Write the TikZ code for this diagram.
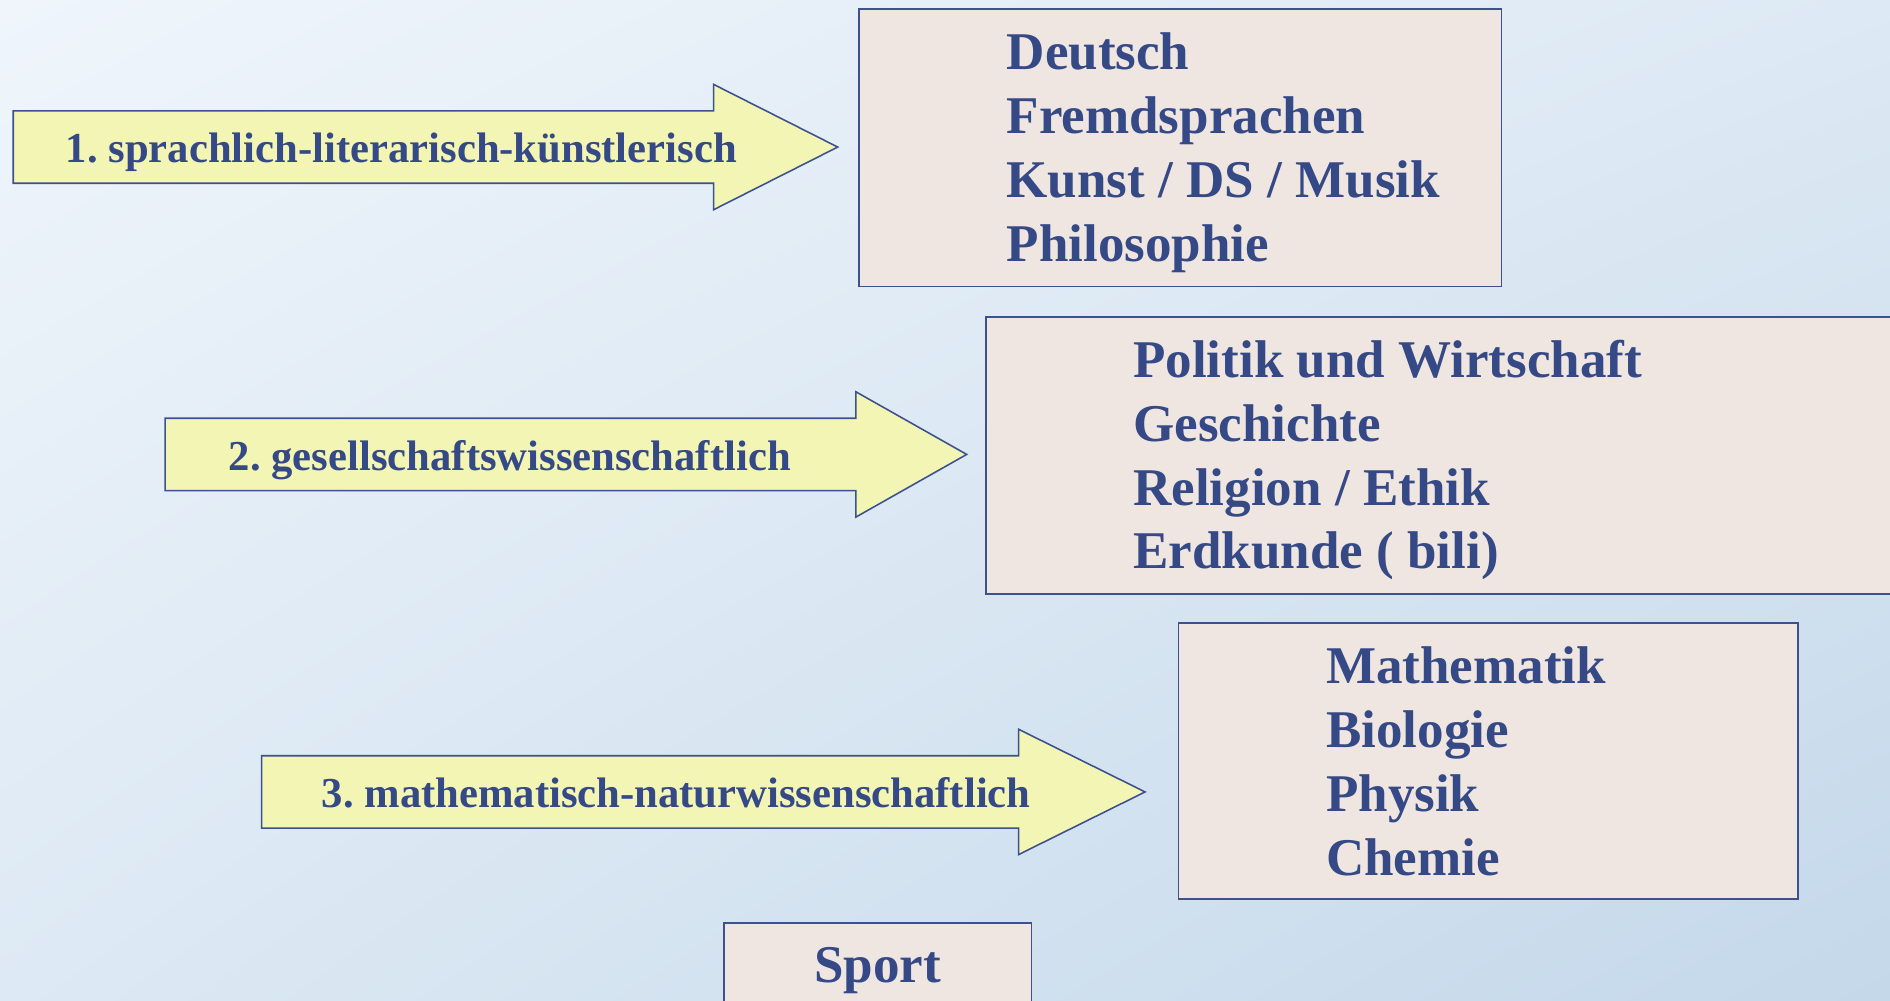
\documentclass[tikz,border=0pt]{standalone}
\usepackage{fontspec}
\setmainfont{Liberation Serif}
\usepackage{tikz}
\usetikzlibrary{positioning, calc, shadings}
\frenchspacing
\definecolor{inkblue}{RGB}{52,73,133}
\definecolor{frameblue}{RGB}{60,82,142}
\definecolor{boxfill}{RGB}{239,230,225}
\definecolor{arrowfill}{RGB}{243,245,181}
\definecolor{bgtl}{RGB}{239,245,251}
\definecolor{bgtr}{RGB}{221,233,244}
\definecolor{bgbl}{RGB}{221,233,244}
\definecolor{bgbr}{RGB}{196,216,234}
\tikzset{
	fieldarrow/.style={draw=frameblue, fill=arrowfill, line width=1.3pt, line join=miter},
	fieldlabel/.style={text=inkblue, font=\bfseries\fontsize{35.4}{42}\selectfont, inner sep=0pt, anchor=base},
	subjbox/.style={draw=frameblue, fill=boxfill, line width=1.5pt, anchor=north west, inner sep=0pt},
	subjtext/.style={text=inkblue, font=\bfseries\fontsize{44}{53}\selectfont, inner sep=0pt, anchor=base west}
}

\begin{document}
\begin{tikzpicture}[x=1pt, y=-1pt]
	% background
	\shade[upper left=bgtl, upper right=bgtr, lower left=bgbl, lower right=bgbr] (0,0) rectangle (1568,830);
	\useasboundingbox (0,0) rectangle (1568,830);

	% subject boxes
	\node[subjbox, minimum width=533pt, minimum height=230pt] (box1) at (712,7) {};
	\node[subjbox, minimum width=770pt, minimum height=230pt] (box2) at (817,262) {};
	\node[subjbox, minimum width=514pt, minimum height=229pt] (box3) at (977,516) {};
	\node[subjbox, minimum width=255pt, minimum height=90pt] (sport) at (600,765) {};

	\foreach \t [count=\i from 0] in {Deutsch, Fremdsprachen, Kunst / DS / Musik, Philosophie}
		\node[subjtext] at ($(box1.north west)+(123,51+53*\i)$) {\t};
	\foreach \t [count=\i from 0] in {Politik und Wirtschaft, Geschichte, Religion / Ethik, Erdkunde ( bili)}
		\node[subjtext] at ($(box2.north west)+(123,51+53*\i)$) {\t};
	\foreach \t [count=\i from 0] in {Mathematik, Biologie, Physik, Chemie}
		\node[subjtext] at ($(box3.north west)+(123,51+53*\i)$) {\t};
	\node[subjtext, anchor=base] (sporttext) at ($(sport.north)+(0,50)$) {Sport};

	% field arrows
	\foreach \xl/\yc/\xb/\xt/\xm/\txt [count=\n] in {
		11/122/592/695/333/{1. sprachlich-literarisch-künstlerisch},
		137/377/710/802/423/{2. gesellschaftswissenschaftlich},
		217/657/845/950/561/{3. mathematisch-naturwissenschaftlich}}
	{
		\draw[fieldarrow] (\xl,\yc-30) -- (\xb,\yc-30) -- (\xb,\yc-52) -- (\xt,\yc)
			-- (\xb,\yc+52) -- (\xb,\yc+30) -- (\xl,\yc+30) -- cycle;
		\node[fieldlabel] (field\n) at (\xm,\yc+13) {\txt};
	}
\end{tikzpicture}
\end{document}
